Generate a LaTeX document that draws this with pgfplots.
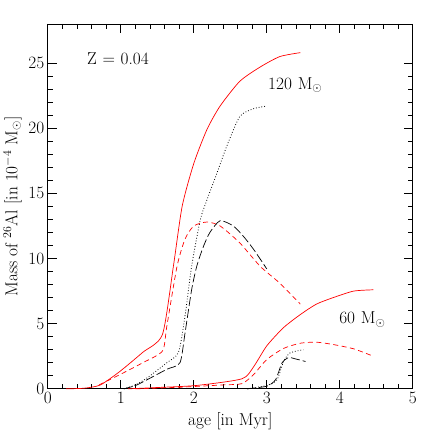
\documentclass[border=0pt]{standalone}
\usepackage{pgfplots}
\pgfplotsset{compat=1.18}
\begin{document}
\begin{tikzpicture}
\begin{axis}[scale only axis, width=365pt, height=365pt,
  xmin=0, xmax=5, ymin=0, ymax=28,
  xtick={0,1,2,3,4,5}, ytick={0,5,10,15,20,25},
  minor x tick num=4, minor y tick num=4,
  tick align=inside, ticks=both, xtick pos=both, ytick pos=both,
  major tick length=9pt, minor tick length=5pt,
  tick style={black, line width=0.8pt},
  axis line style={black, line width=0.9pt},
  tick label style={font=\LARGE},
  label style={font=\LARGE},
  xlabel={age [in Myr]},
  ylabel={Mass of $^{26}$Al [in 10$^{-4}$ M$_\odot$]},
  xlabel style={yshift=-2pt}, ylabel style={yshift=0pt},
  clip=false]
% 120 Msun
\addplot[red, line width=0.7pt, smooth, tension=0.4] coordinates {(0.25,0) (0.5,0.05) (0.72,0.3) (0.99,1.35) (1.3,2.8) (1.57,4.17) (1.72,9.4) (1.84,14.0) (2.0,17.3) (2.18,19.9) (2.36,21.7) (2.63,23.6) (2.91,24.7) (3.18,25.5) (3.46,25.8)};
\addplot[red, line width=0.7pt, dash pattern=on 5pt off 3.5pt, smooth, tension=0.4] coordinates {(0.7,0.3) (0.99,1.1) (1.3,2.0) (1.57,2.9) (1.63,4.8) (1.77,9.4) (1.88,11.5) (2.0,12.5) (2.18,12.8) (2.36,12.5) (2.63,11.2) (2.91,9.4) (3.18,8.1) (3.46,6.5)};
\addplot[black, line width=0.8pt, dotted, smooth, tension=0.4] coordinates {(1.04,0) (1.2,0.3) (1.36,0.84) (1.63,2.0) (1.79,2.8) (1.88,5.6) (1.97,9.4) (2.09,13.0) (2.18,14.5) (2.32,16.6) (2.45,18.6) (2.63,20.9) (2.82,21.5) (3.0,21.7)};
\addplot[black, line width=0.7pt, dash pattern=on 9pt off 3pt, smooth, tension=0.4] coordinates {(1.04,0) (1.2,0.25) (1.36,0.7) (1.63,1.5) (1.81,2.0) (1.88,4.3) (1.97,7.6) (2.04,9.4) (2.13,10.9) (2.22,12.0) (2.36,12.9) (2.54,12.5) (2.68,11.7) (2.82,10.7) (3.0,9.2)};
% 60 Msun
\addplot[red, line width=0.7pt, smooth, tension=0.4] coordinates {(1.1,0) (1.5,0.1) (2.04,0.26) (2.66,0.77) (2.82,1.7) (3.0,3.3) (3.23,4.7) (3.46,5.7) (3.68,6.5) (3.91,7.0) (4.19,7.5) (4.46,7.6)};
\addplot[red, line width=0.7pt, dash pattern=on 5pt off 3.5pt, smooth, tension=0.4] coordinates {(1.2,0) (1.8,0.12) (2.4,0.3) (2.66,0.4) (2.82,1.1) (3.0,2.25) (3.23,3.1) (3.46,3.5) (3.68,3.58) (3.91,3.4) (4.19,3.07) (4.46,2.5)};
\addplot[black, line width=0.8pt, dotted, smooth, tension=0.4] coordinates {(2.73,0) (3.0,0.26) (3.14,0.7) (3.23,2.1) (3.32,2.76) (3.5,3.0)};
\addplot[black, line width=0.7pt, dash pattern=on 9pt off 3pt, smooth, tension=0.4] coordinates {(2.73,0) (3.0,0.2) (3.12,0.7) (3.21,2.0) (3.30,2.4) (3.39,2.3) (3.53,2.1)};
\node[font=\LARGE] at (axis cs:0.96,25.3) {Z\,\,=\,\,0.04};
\node[font=\LARGE] at (axis cs:3.39,23.3) {120\,\,M$_\odot$};
\node[font=\LARGE] at (axis cs:4.31,5.3) {60\,\,M$_\odot$};
\path (rel axis cs:-0.1307,-0.128) rectangle (rel axis cs:1.0638,1.0657);
\end{axis}
\end{tikzpicture}
\end{document}
